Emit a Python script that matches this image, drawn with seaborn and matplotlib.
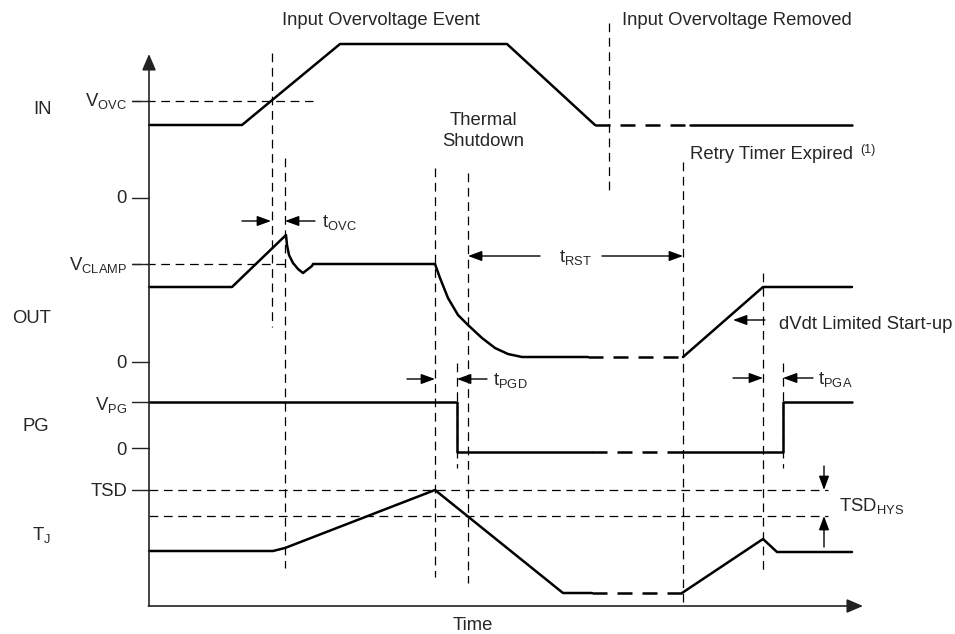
import matplotlib
matplotlib.use("Agg")
import matplotlib.pyplot as plt
import seaborn as sns

# Timing diagram, coordinates (pixels, y down)

# IN trace
IN_X = [149, 242, 340, 507, 595]
IN_Y = [125, 125, 44, 44, 125]
IN_GAP_X = [595, 690]
IN_GAP_Y = [125, 125]
IN_END_X = [690, 852]
IN_END_Y = [125, 125]

# OUT trace
OUT_X = [149, 232, 286, 287, 289, 293, 298, 303, 312, 313,
         435, 440, 448, 458, 468, 482, 495, 508, 522, 588]
OUT_Y = [287, 287, 235, 245, 255, 263, 269, 273, 266, 264,
         264, 278, 298, 315, 325, 338, 348, 354, 357, 357]
OUT_GAP_X = [588, 683]
OUT_GAP_Y = [357, 357]
OUT_END_X = [683, 763, 852]
OUT_END_Y = [357, 287, 287]

# PG trace
PG_X = [149, 457, 457, 592]
PG_Y = [402, 402, 452, 452]
PG_GAP_X = [592, 682]
PG_GAP_Y = [452, 452]
PG_END_X = [682, 783, 783, 852]
PG_END_Y = [452, 452, 402, 402]

# TJ trace
TJ_X = [149, 273, 285, 435, 563, 592]
TJ_Y = [551, 551, 548, 490, 593, 593]
TJ_GAP_X = [592, 682]
TJ_GAP_Y = [593, 593]
TJ_END_X = [682, 763, 777, 852]
TJ_END_Y = [593, 539, 552, 552]

# dashed guide lines
VLINE_X = [272, 285, 435, 468, 457, 609, 683, 763, 783]
VLINE_TOP = [53, 158, 168, 173, 363, 23, 162, 273, 363]
VLINE_BOT = [327, 568, 577, 583, 468, 190, 605, 570, 468]
HLINE_Y = [101, 264, 490, 516]
HLINE_X0 = [132, 132, 149, 149]
HLINE_X1 = [313, 285, 828, 828]

# y tick marks and labels
TICK_Y = [101, 198, 264, 362, 402, 448, 490]
TICK_TEXT_Y = [106, 203, 270, 368, 410, 455, 496]
TICK_LABELS = [r"$\mathrm{V_{OVC}}$", "0", r"$\mathrm{V_{CLAMP}}$", "0",
               r"$\mathrm{V_{PG}}$", "0", "TSD"]

SIGNAL_NAMES = ["IN", "OUT", "PG", r"$\mathrm{T_J}$"]
SIGNAL_X = [42, 32, 36, 41]
SIGNAL_Y = [114, 323, 431, 540]

sns.set_theme(style="white")
plt.rcParams["font.family"] = ["Liberation Sans", "DejaVu Sans"]
plt.rcParams["mathtext.fontset"] = "custom"
plt.rcParams["mathtext.rm"] = "Liberation Sans"
plt.rcParams["mathtext.it"] = "Liberation Sans:italic"
plt.rcParams["mathtext.bf"] = "Liberation Sans:bold"

FS = 13.3
TRACE_LW = 1.8
GUIDE = dict(color="black", lw=0.9, linestyle=(0, (7, 4.5)))
ARROW = dict(arrowstyle="-|>,head_length=0.6,head_width=0.22", color="black",
             lw=1.0, shrinkA=0, shrinkB=0, mutation_scale=14)

fig = plt.figure(figsize=(9.55, 6.34), dpi=100)
ax = fig.add_axes([0, 0, 1, 1])
ax.set_xlim(0, 955)
ax.set_ylim(634, 0)
ax.axis("off")


def trace(xs, ys, dashed=False):
    kw = dict(sort=False, estimator=None, color="black", lw=TRACE_LW, ax=ax)
    if dashed:
        kw["linestyle"] = (0, (6, 4))
    sns.lineplot(x=xs, y=ys, **kw)


trace(IN_X, IN_Y)
trace(IN_GAP_X, IN_GAP_Y, dashed=True)
trace(IN_END_X, IN_END_Y)
trace(OUT_X, OUT_Y)
trace(OUT_GAP_X, OUT_GAP_Y, dashed=True)
trace(OUT_END_X, OUT_END_Y)
trace(PG_X, PG_Y)
trace(PG_GAP_X, PG_GAP_Y, dashed=True)
trace(PG_END_X, PG_END_Y)
trace(TJ_X, TJ_Y)
trace(TJ_GAP_X, TJ_GAP_Y, dashed=True)
trace(TJ_END_X, TJ_END_Y)

for x, y0, y1 in zip(VLINE_X, VLINE_TOP, VLINE_BOT):
    ax.plot([x, x], [y0, y1], **GUIDE)
for y, x0, x1 in zip(HLINE_Y, HLINE_X0, HLINE_X1):
    ax.plot([x0, x1], [y, y], **GUIDE)

# axes with arrow heads
axis_arrow = dict(arrowstyle="-|>,head_length=0.7,head_width=0.3", color="#222222",
                  lw=1.2, shrinkA=0, shrinkB=0, mutation_scale=14)
ax.annotate("", xy=(149, 54), xytext=(149, 606), arrowprops=axis_arrow)
ax.annotate("", xy=(863, 606), xytext=(148.4, 606), arrowprops=axis_arrow)

for y, ty, lab in zip(TICK_Y, TICK_TEXT_Y, TICK_LABELS):
    ax.plot([132, 149], [y, y], color="#222222", lw=1.0)
    ax.text(127, ty, lab, ha="right", va="baseline", fontsize=FS)

for x, y, lab in zip(SIGNAL_X, SIGNAL_Y, SIGNAL_NAMES):
    ax.text(x, y, lab, ha="center", va="baseline", fontsize=FS)

# timing arrows
def arrow(tail, head):
    ax.annotate("", xy=head, xytext=tail, arrowprops=ARROW)


arrow((242, 221), (271, 221))
arrow((315, 221), (285, 221))
arrow((540, 256), (468, 256))
arrow((602, 256), (683, 256))
arrow((765, 320), (733, 320))
arrow((407, 379), (435, 379))
arrow((487, 379), (457, 379))
arrow((733, 378), (763, 378))
arrow((813, 378), (783, 378))
arrow((824, 466), (824, 490))
arrow((824, 547), (824, 516))

# annotations
ax.text(282, 25, "Input Overvoltage Event", fontsize=FS, va="baseline")
ax.text(622, 25, "Input Overvoltage Removed", fontsize=FS, va="baseline")
ax.text(483, 125, "Thermal", fontsize=FS, va="baseline", ha="center")
ax.text(483, 146, "Shutdown", fontsize=FS, va="baseline", ha="center")
ax.text(690, 159, "Retry Timer Expired", fontsize=FS, va="baseline")
ax.text(860, 153, "(1)", fontsize=9, va="baseline")
ax.text(779, 329, "dVdt Limited Start-up", fontsize=FS, va="baseline")
ax.text(322, 227, r"$\mathrm{t_{OVC}}$", fontsize=FS, va="baseline")
ax.text(559, 262, r"$\mathrm{t_{RST}}$", fontsize=FS, va="baseline")
ax.text(493, 385, r"$\mathrm{t_{PGD}}$", fontsize=FS, va="baseline")
ax.text(818, 384, r"$\mathrm{t_{PGA}}$", fontsize=FS, va="baseline")
ax.text(839, 511, r"$\mathrm{TSD_{HYS}}$", fontsize=FS, va="baseline")
ax.text(473, 630, "Time", fontsize=FS, va="baseline", ha="center")

fig.savefig("out.png", dpi=100)
